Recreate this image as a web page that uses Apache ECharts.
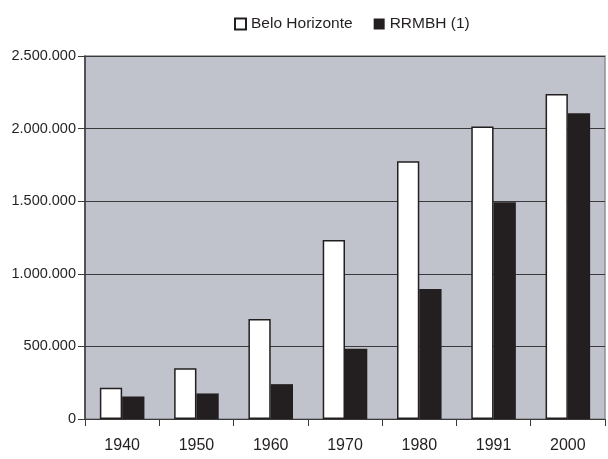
<!DOCTYPE html>
<html>
<head>
<meta charset="utf-8">
<script src="https://cdn.jsdelivr.net/npm/echarts@6/dist/echarts.min.js"></script>
<style>
  html, body { margin: 0; padding: 0; background: #fff; }
  #chart { width: 608px; height: 459px; }
</style>
</head>
<body>
<div id="chart"></div>
<script>
// Census years
var years = ['1940', '1950', '1960', '1970', '1980', '1991', '2000'];
// Population of Belo Horizonte
var beloHorizonte = [215000, 350000, 688000, 1233000, 1775000, 2015000, 2238000];
// Population of the rest of the metropolitan region (RRMBH)
var rrmbh = [155000, 176000, 240000, 483000, 895000, 1492000, 2106000];
var seriesNames = ['Belo Horizonte', 'RRMBH (1)'];

function dotted(v) {
  return String(v).replace(/\B(?=(\d{3})+(?!\d))/g, '.');
}

var chart = echarts.init(document.getElementById('chart'), null, { renderer: 'canvas' });
chart.setOption({
  animation: false,
  textStyle: { fontFamily: 'Liberation Sans, Arial, sans-serif', color: '#231f20' },
  legend: {
    top: 11,
    left: 229,
    itemWidth: 11,
    itemHeight: 11,
    itemGap: 21,
    icon: 'rect',
    textStyle: { fontSize: 15.5, color: '#231f20' },
    data: seriesNames
  },
  grid: {
    left: 85, top: 56, right: 3, bottom: 40,
    show: true,
    backgroundColor: '#c0c3cb',
    borderColor: '#8c8e92',
    borderWidth: 1.5
  },
  xAxis: {
    type: 'category',
    data: years,
    axisLine: { lineStyle: { color: '#3a3a3a', width: 1.2 } },
    axisTick: { show: true, alignWithLabel: false, length: 7, lineStyle: { color: '#3a3a3a' } },
    axisLabel: { fontSize: 16, color: '#231f20', margin: 19 }
  },
  yAxis: {
    type: 'value',
    min: 0, max: 2500000, interval: 500000,
    axisLine: { show: true, lineStyle: { color: '#3a3a3a', width: 1.5 } },
    axisTick: { show: true, length: 7, lineStyle: { color: '#3a3a3a' } },
    axisLabel: { fontSize: 14.5, color: '#231f20', margin: 9, formatter: dotted },
    splitLine: { lineStyle: { color: '#3a3a3a', width: 1 } }
  },
  series: [
    {
      name: seriesNames[0],
      type: 'bar',
      data: beloHorizonte,
      barWidth: '30%',
      barGap: '0%',
      itemStyle: { color: '#ffffff', borderColor: '#231f20', borderWidth: 1.5 }
    },
    {
      name: seriesNames[1],
      type: 'bar',
      data: rrmbh,
      barWidth: '30%',
      itemStyle: { color: '#231f20', borderColor: '#231f20', borderWidth: 0 }
    }
  ]
});
</script>
</body>
</html>
